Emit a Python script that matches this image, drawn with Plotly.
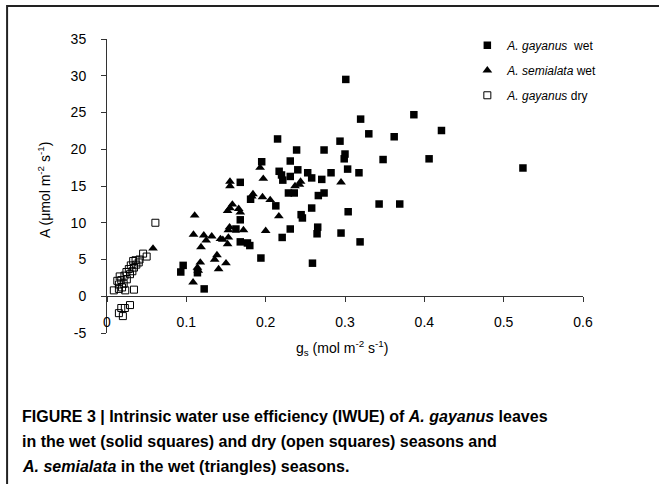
import plotly.graph_objects as go

# A. gayanus, wet season (solid squares)
gw_gs = [0.096, 0.093, 0.114, 0.1225, 0.168, 0.168, 0.1625, 0.168, 0.177, 0.180,
         0.194, 0.181, 0.195, 0.215, 0.217, 0.220, 0.2216, 0.2128, 0.2208, 0.231,
         0.239, 0.231, 0.2287, 0.236, 0.2405, 0.2447, 0.2463, 0.231, 0.253, 0.258,
         0.2707, 0.2824, 0.2664, 0.2736, 0.258, 0.2736, 0.2937, 0.300, 0.299, 0.3033,
         0.304, 0.2656, 0.2648, 0.295, 0.259, 0.319, 0.3197, 0.3868, 0.330, 0.362,
         0.4216, 0.348, 0.406, 0.3176, 0.5243, 0.343, 0.369, 0.301]
gw_A = [4.2, 3.3, 3.2, 1.0, 15.5, 10.4, 9.15, 7.4, 7.25, 6.9,
        5.2, 13.2, 18.3, 21.4, 17.0, 16.5, 15.8, 12.3, 8.0, 18.4,
        19.9, 16.3, 14.05, 14.05, 17.2, 11.1, 10.65, 9.15, 16.8, 16.1,
        15.9, 16.8, 13.7, 14.05, 12.0, 19.9, 21.1, 19.35, 18.7, 17.3,
        11.5, 9.4, 8.5, 8.6, 4.5, 7.4, 24.1, 24.7, 22.1, 21.7,
        22.55, 18.6, 18.7, 16.8, 17.45, 12.55, 12.55, 29.5]

# A. semialata, wet season (triangles)
sw_gs = [0.058, 0.1085, 0.109, 0.1105, 0.114, 0.115, 0.1176, 0.1185, 0.122, 0.125,
         0.132, 0.1357, 0.1386, 0.1407, 0.143, 0.146, 0.150, 0.152, 0.153, 0.153,
         0.1545, 0.152, 0.155, 0.158, 0.155, 0.155, 0.166, 0.168, 0.172, 0.184,
         0.1825, 0.193, 0.197, 0.196, 0.2057, 0.200, 0.2166, 0.2425, 0.244, 0.237,
         0.295]
sw_A = [6.5, 1.9, 8.4, 11.0, 3.9, 3.5, 4.6, 6.7, 8.3, 7.6,
        8.15, 5.0, 5.6, 3.7, 7.8, 7.7, 4.5, 7.1, 8.0, 9.0,
        9.4, 11.6, 12.0, 12.5, 15.0, 15.6, 11.9, 11.4, 9.0, 13.9,
        13.6, 17.5, 16.0, 13.5, 13.1, 8.9, 10.9, 15.2, 15.6, 15.0,
        15.5]

# A. gayanus, dry season (open squares)
gd_gs = [0.0086, 0.015, 0.023, 0.034, 0.019, 0.015, 0.021, 0.018, 0.025, 0.016,
         0.022, 0.029, 0.0245, 0.032, 0.0275, 0.034, 0.030, 0.037, 0.033, 0.040,
         0.036, 0.041, 0.0455, 0.050, 0.061, 0.013, 0.018, 0.0225, 0.029, 0.015,
         0.020]
gd_A = [0.8, 1.0, 0.8, 0.9, 1.2, 1.6, 1.7, 2.2, 2.3, 2.7,
        2.8, 3.0, 3.3, 3.4, 3.7, 3.9, 4.2, 4.3, 4.8, 4.6,
        4.9, 5.0, 5.8, 5.4, 10.0, 2.1, -1.6, -1.6, -1.2, -2.3,
        -2.7]

y_ticks = [-5, 0, 5, 10, 15, 20, 25, 30, 35]
y_ticktext = ["-5", "0", "5", "10", "15", "20", "25", "30", "35"]

FONT = "Liberation Sans, Arial, sans-serif"

fig = go.Figure()
fig.add_trace(go.Scatter(x=gw_gs, y=gw_A, mode="markers", name="<i>A. gayanus</i>  wet",
                         legendgroup="a",
                         marker=dict(symbol="square", size=7.5, color="black")))
fig.add_trace(go.Scatter(x=sw_gs, y=sw_A, mode="markers", name="<i>A. semialata</i> wet",
                         legendgroup="b",
                         marker=dict(symbol="triangle-up", size=8.5, color="black")))
fig.add_trace(go.Scatter(x=gd_gs, y=gd_A, mode="markers", name="<i>A. gayanus</i> dry",
                         legendgroup="c",
                         marker=dict(symbol="square-open", size=7, color="black",
                                     line=dict(width=1))))

fig.update_layout(
    width=659, height=484,
    margin=dict(l=107, r=75.5, t=39, b=150.5, autoexpand=False),
    plot_bgcolor="white", paper_bgcolor="white",
    font=dict(family=FONT, size=14, color="black"),
    showlegend=True,
    legend=dict(x=0.757, y=1.028, xanchor="left", yanchor="top",
                font=dict(size=12), tracegroupgap=6, itemwidth=30,
                bgcolor="rgba(0,0,0,0)"),
    xaxis=dict(range=[0, 0.6], dtick=0.1, tick0=0, showgrid=False, zeroline=False,
               showline=True, linecolor="#333", linewidth=1,
               ticks="outside", ticklen=5, tickcolor="#333",
               anchor="free", position=0.125, ticklabelstandoff=8,
               automargin=False),
    yaxis=dict(range=[-5, 35], tickvals=y_ticks, ticktext=y_ticktext,
               showgrid=False, zeroline=False,
               showline=True, linecolor="#333", linewidth=1,
               ticks="outside", ticklen=5, tickcolor="#333",
               ticklabelstandoff=12, automargin=False),
)

# axis titles
fig.add_annotation(text="g<sub>s</sub> (mol m<sup>-2</sup> s<sup>-1</sup>)",
                   x=0.493, y=-0.0526, xref="paper", yref="paper",
                   xanchor="center", yanchor="middle",
                   showarrow=False, font=dict(size=14))
fig.add_annotation(text="A (μmol m<sup>-2</sup> s<sup>-1</sup>)",
                   x=-0.132, y=0.487, xref="paper", yref="paper",
                   xanchor="center", yanchor="middle",
                   textangle=-90, showarrow=False, font=dict(size=14))

# caption
caption = [
    "FIGURE 3 | Intrinsic water use efficiency (IWUE) of <i>A. gayanus</i> leaves",
    "in the wet (solid squares) and dry (open squares) seasons and",
    "<i>A. semialata</i> in the wet (triangles) seasons.",
]
for i, line in enumerate(caption):
    fig.add_annotation(text="<b>" + line + "</b>", x=-0.1826, y=-0.2835 - 0.0849 * i,
                       xref="paper", yref="paper", xanchor="left", yanchor="middle",
                       showarrow=False,
                       font=dict(family="Liberation Sans Narrow, Liberation Sans, Arial",
                                 size=16))

# outer frame
fig.add_shape(type="rect", xref="paper", yref="paper",
              x0=-0.2099, x1=1.171, y0=-0.548, y1=1.112,
              line=dict(color="#222", width=2))

# the page has a default 8px body margin; drop it so the figure sits at 0,0
fig.write_html("out.html", config={"displayModeBar": False},
               post_script="document.body.style.margin='0px';")
